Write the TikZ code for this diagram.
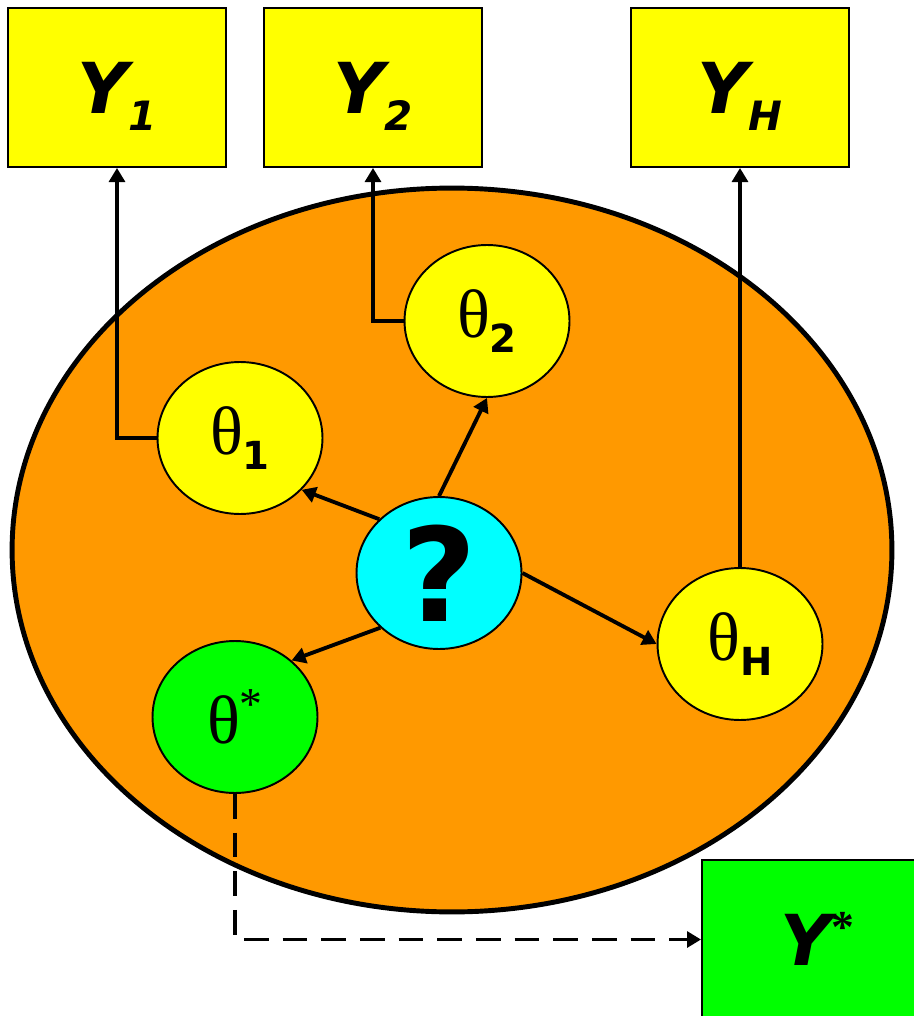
\documentclass[tikz,border=0pt]{standalone}
\usepackage{fontspec}
\setmainfont{DejaVu Sans}
\newfontfamily\thetafont{Liberation Serif}
\usetikzlibrary{shapes.geometric,arrows.meta}

\definecolor{poolorange}{RGB}{255,153,0}
\definecolor{hypyellow}{RGB}{255,255,0}
\definecolor{hypgreen}{RGB}{0,255,0}
\definecolor{askcyan}{RGB}{0,255,255}

% label helpers: bold oblique Y with lowered index, serif theta with bold index
\newcommand{\ylab}[1]{\fontsize{40}{40}\selectfont\bfseries\itshape Y\smash{\raisebox{-10pt}{\fontsize{23}{23}\selectfont #1}}}
\newcommand{\tlab}[1]{{\thetafont\fontsize{39}{39}\selectfont θ}\raisebox{-9pt}{\fontsize{22}{22}\selectfont\bfseries #1}}

\begin{document}
\begin{tikzpicture}[
  x=0.02cm, y=-0.02cm,
  outcome/.style={draw, line width=1.1pt, minimum width=4.36cm, minimum height=3.18cm, inner sep=0pt},
  hyp/.style={draw, ellipse, line width=1.1pt, minimum width=3.3cm, minimum height=3.04cm, inner sep=0pt},
  arrow/.style={-{Triangle[length=8pt, width=9pt]}, line width=2.2pt},
]
\useasboundingbox (0,0) rectangle (913,1016);

% Pool of candidate parameters.
\node[draw, ellipse, line width=2.8pt, fill=poolorange, minimum width=17.6cm, minimum height=14.48cm] (pool) at (452,550) {};

% Observed outcomes on top, predicted outcome bottom right.
\node[outcome, fill=hypyellow] (y1) at (117,87.5) {\ylab{1}};
\node[outcome, fill=hypyellow] (y2) at (373,87.5) {\ylab{2}};
\node[outcome, fill=hypyellow] (yH) at (740,87.5) {\ylab{H}};
\node[outcome, fill=hypgreen, minimum width=4.6cm] (ystar) at (817,939.5) {\fontsize{40}{40}\selectfont\bfseries\itshape Y\smash{\raisebox{13pt}{\fontsize{26}{26}\selectfont\upshape\thetafont *}}\hspace{12pt}};

% Parameter hypotheses and the unknown.
\node[hyp, fill=hypyellow] (t1) at (240,438) {\tlab{1}};
\node[hyp, fill=hypyellow] (t2) at (487,321) {\tlab{2}};
\node[hyp, fill=hypyellow] (tH) at (740,644) {\tlab{H}};
\node[hyp, fill=hypgreen] (ts) at (235,717) {{\thetafont\fontsize{39}{39}\selectfont θ}\raisebox{14pt}{\thetafont\fontsize{26}{26}\selectfont *}};
\node[hyp, fill=askcyan] (q) at (439,573) {\fontsize{74}{74}\selectfont\bfseries ?};

% Unknown points to each hypothesis.
\draw[arrow] (q.138) -- (t1.-40);
\draw[arrow] (q.north) -- (t2.south);
\draw[arrow] (q.east) -- (tH.west);
\draw[arrow] (q.223) -- (ts.45);

% Hypotheses generate the outcomes.
\draw[arrow] (t1.west) -| (y1.south);
\draw[arrow] (t2.west) -| (y2.south);
\draw[arrow] (tH.north) -- (yH.south);
\draw[arrow, dashed, dash pattern=on 14pt off 8pt] (ts.south) |- (ystar.west);

\end{tikzpicture}
\end{document}
